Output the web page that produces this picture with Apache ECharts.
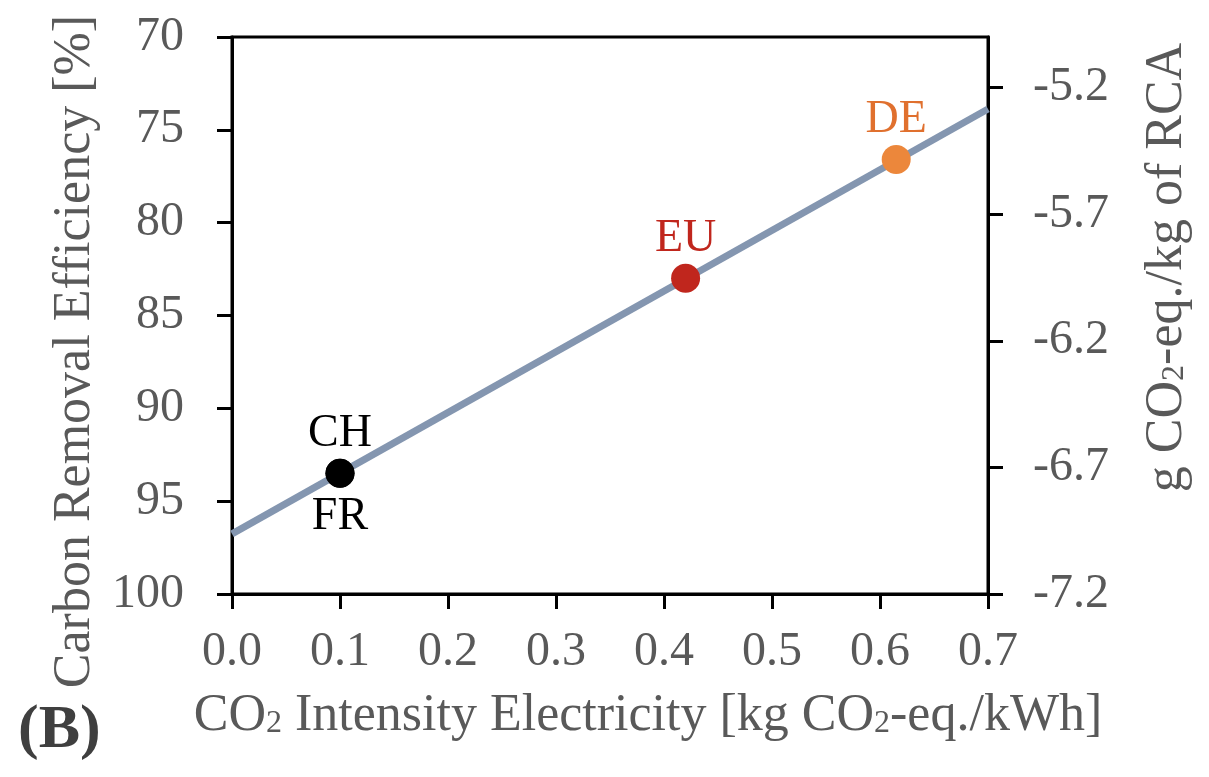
<!DOCTYPE html>
<html>
<head>
<meta charset="utf-8">
<script src="https://cdn.jsdelivr.net/npm/echarts@6/dist/echarts.min.js"></script>
<style>html,body{margin:0;padding:0;background:#fff;}#c{width:1209px;height:777px;}</style>
</head>
<body>
<div id="c"></div>
<script>
// Data
const countries = ['CH', 'FR', 'EU', 'DE'];
const intensity = [0.1, 0.1, 0.42, 0.615];          // kg CO2-eq./kWh
const efficiency = [93.5, 93.5, 83.0, 76.6];         // %
const pointColors = ['#000000', '#000000', '#c0261d', '#ec873b'];
const labelColors = ['#000000', '#000000', '#c0261d', '#e0702e'];
const labelPos = ['top', 'bottom', 'top', 'top'];
const fitX = [0.0, 0.7];
const fitY = [96.76, 73.88];
const xTicks = [0.0, 0.1, 0.2, 0.3, 0.4, 0.5, 0.6, 0.7];
const leftTicks = [70, 75, 80, 85, 90, 95, 100];
const rightTicks = [-7.2, -6.7, -6.2, -5.7, -5.2];

const FONT = '"Liberation Serif", "Times New Roman", serif';
const GREY = '#595959';

const chart = echarts.init(document.getElementById('c'), null, {renderer: 'canvas'});

const axisCommon = {
  axisLine: {show: true, lineStyle: {color: '#000', width: 3}},
  axisTick: {show: true, length: 15, inside: false, lineStyle: {color: '#000', width: 3}},
  splitLine: {show: false},
  axisLabel: {color: GREY, fontFamily: FONT, fontSize: 48}
};

const option = {
  animation: false,
  backgroundColor: '#fff',
  grid: {left: 232, right: 221, top: 37, bottom: 183, show: true, borderColor: '#000', borderWidth: 3, containLabel: false},
  xAxis: {
    type: 'value', min: xTicks[0], max: xTicks[xTicks.length - 1], interval: 0.1,
    ...axisCommon,
    axisLabel: {...axisCommon.axisLabel, margin: 34, formatter: v => v.toFixed(1)},
    name: 'CO{s|2} Intensity Electricity [kg CO{s|2}-eq./kWh]',
    nameLocation: 'middle', nameGap: 96,
    nameTextStyle: {color: GREY, fontFamily: FONT, fontSize: 52, padding: [0, 0, 0, 76],
      rich: {s: {fontSize: 32, fontFamily: FONT, color: GREY, verticalAlign: 'bottom', padding: [0, 0, 2, 0]}}}
  },
  yAxis: [
    {
      type: 'value', inverse: true, min: leftTicks[0], max: leftTicks[leftTicks.length - 1], interval: 5,
      position: 'left',
      ...axisCommon,
      axisLabel: {...axisCommon.axisLabel, margin: 48},
      name: 'Carbon Removal Efficiency [%]',
      nameLocation: 'middle', nameGap: 130,
      nameTextStyle: {color: GREY, fontFamily: FONT, fontSize: 52, padding: [0, 72, 0, 0]}
    },
    {
      type: 'value', min: rightTicks[0], max: -5.0, interval: 0.5,
      position: 'right',
      ...axisCommon,
      axisLabel: {...axisCommon.axisLabel, margin: 45, showMaxLabel: false,
        formatter: v => (rightTicks.some(t => Math.abs(t - v) < 1e-6) ? v.toFixed(1) : '')},
      name: 'g CO{s|2}-eq./kg of RCA',
      nameLocation: 'middle', nameGap: 153,
      nameTextStyle: {color: GREY, fontFamily: FONT, fontSize: 52, padding: [0, 0, 0, 96],
        rich: {s: {fontSize: 32, fontFamily: FONT, color: GREY, verticalAlign: 'bottom', padding: [0, 0, 2, 0]}}}
    }
  ],
  graphic: [
    {type: 'text', left: 18, top: 700, style: {text: '(B)', font: 'bold 62px ' + FONT, fill: '#3f3f3f'}}
  ],
  series: [
    {
      type: 'line', xAxisIndex: 0, yAxisIndex: 0,
      data: fitX.map((x, i) => [x, fitY[i]]),
      symbol: 'none', lineStyle: {color: '#8496b0', width: 7}, z: 2, silent: true
    },
    {
      type: 'scatter', xAxisIndex: 0, yAxisIndex: 0, symbolSize: 29, z: 3,
      itemStyle: {opacity: 1},
      data: countries.map((c, i) => ({
        value: [intensity[i], efficiency[i]], name: c,
        itemStyle: {color: pointColors[i], opacity: 1},
        label: {show: true, position: labelPos[i], formatter: c, distance: labelPos[i] === 'top' ? 2 : 6,
          color: labelColors[i], opacity: 1, fontFamily: FONT, fontSize: 46}
      }))
    }
  ]
};
chart.setOption(option);
</script>
</body>
</html>
